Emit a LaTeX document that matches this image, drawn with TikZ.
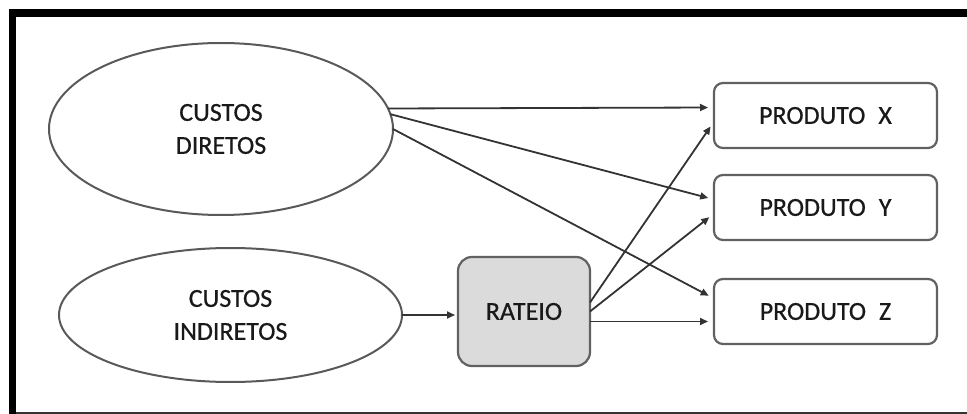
\documentclass[tikz,border=0pt]{standalone}
\usepackage{fontspec}
\setmainfont{Carlito}[FakeBold=0.6]
\usetikzlibrary{shapes.geometric,arrows.meta}
\tikzset{
  custo/.style={ellipse,draw=black!65,line width=2pt,inner sep=0pt,outer sep=0pt,align=center,text=black!90},
  prod/.style={rectangle,rounded corners=9pt,draw=black!62,line width=2.2pt,minimum width=223pt,minimum height=65pt,inner sep=0pt,outer sep=0pt,text=black!90},
  rateiobox/.style={rectangle,rounded corners=14pt,draw=black!62,fill=black!14,line width=2.2pt,minimum width=132pt,minimum height=109pt,inner sep=0pt,outer sep=0pt,text=black!90},
  seta/.style={draw=black!80,line width=1.8pt,-{Triangle[length=8pt,width=7pt]},shorten >=6pt}
}
\begin{document}
\begin{tikzpicture}[x=1pt,y=-1pt,font=\fontsize{26}{33}\selectfont]
  \useasboundingbox (0,0) rectangle (967,414);
  % moldura
  \draw[line width=2pt,black!80] (9,412.5) -- (967,412.5);
  \draw[line width=7.5pt] (12.5,416) -- (12.5,13) -- (970,13);

  \node[custo,minimum width=344pt,minimum height=172pt] (cd) at (221,129) {CUSTOS\\DIRETOS};
  \node[custo,minimum width=343pt,minimum height=134pt] (ci) at (230.5,315) {CUSTOS\\INDIRETOS};
  \node[rateiobox] (rt) at (524,311.5) {RATEIO};
  \node[prod] (px) at (825.5,115.5) {PRODUTO\hspace{.5em}X};
  \node[prod] (py) at (825.5,207.5) {PRODUTO\hspace{.5em}Y};
  \node[prod] (pz) at (825.5,311.5) {PRODUTO\hspace{.5em}Z};

  \draw[seta] (cd.7) -- ([yshift=8pt]px.west);
  \draw[seta] (cd.5) -- ([yshift=8pt]py.west);
  \draw[seta] (cd.east) -- ([yshift=13pt]pz.west);
  \draw[seta,shorten >=3pt] (ci.east) -- (ci.east -| rt.west);
  \draw[seta] ([yshift=9pt]rt.east) -- ([yshift=-6pt]px.west);
  \draw[seta] (rt.east) -- ([yshift=-6pt]py.west);
  \draw[seta] ([yshift=-10pt]rt.east) -- ([yshift=-10pt]pz.west);
\end{tikzpicture}
\end{document}
